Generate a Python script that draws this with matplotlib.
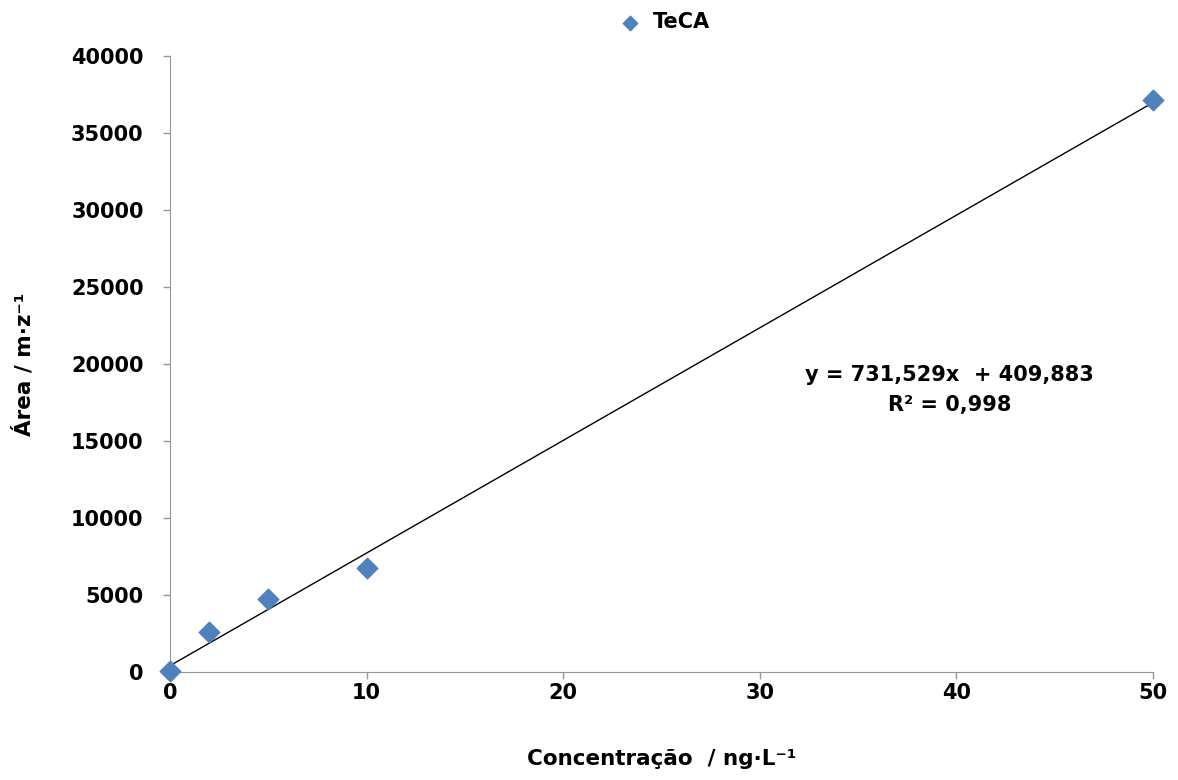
import matplotlib
matplotlib.use("Agg")
import matplotlib.pyplot as plt
import numpy as np

# calibration data
conc = [0, 2, 5, 10, 50]
area = [50, 2600, 4720, 6750, 37120]
slope = 731.529
intercept = 409.883
x_ticks = [0, 10, 20, 30, 40, 50]
y_ticks = [0, 5000, 10000, 15000, 20000, 25000, 30000, 35000, 40000]

plt.rcParams['font.family'] = ['DejaVu Sans']
plt.rcParams['font.weight'] = 'bold'

fig = plt.figure(figsize=(11.78, 7.8), dpi=100)
ax = fig.add_axes([0.1443, 0.1385, 0.8345, 0.7895])

# trend line
xl = np.array([conc[0], conc[-1]])
ax.plot(xl, slope * xl + intercept, color='black', lw=1, zorder=2)

ax.scatter(conc, area, marker='D', s=110, color='#4F81BD', zorder=3,
           label='TeCA', clip_on=False)

ax.set_xlim(0, 50)
ax.set_ylim(0, 40000)
ax.set_xticks(x_ticks)
ax.set_yticks(y_ticks)
for s in ['top', 'right']:
    ax.spines[s].set_visible(False)
for s in ['left', 'bottom']:
    ax.spines[s].set_color('#969696')
ax.tick_params(axis='both', colors='#969696', labelcolor='black',
               labelsize=15, length=5, width=1, direction='out')
ax.tick_params(axis='y', pad=14)
ax.tick_params(axis='x', pad=3)
for lab in ax.get_xticklabels() + ax.get_yticklabels():
    lab.set_fontweight('bold')

ax.set_xlabel('Concentração  / ng·L⁻¹', fontsize=15.5, fontweight='bold')
ax.set_ylabel('Área / m·z⁻¹', fontsize=15.5, fontweight='bold')
ax.xaxis.set_label_coords(0.5, -0.125)
ax.yaxis.set_label_coords(-0.138, 0.5)

ax.text(0.793, 0.458, 'y = 731,529x  + 409,883\nR² = 0,998', transform=ax.transAxes,
        ha='center', va='center', fontsize=15, fontweight='bold', linespacing=1.6)

leg = ax.legend(loc='lower center', bbox_to_anchor=(0.498, 1.015), frameon=False,
                fontsize=15, handletextpad=0.1, borderaxespad=0.3, markerscale=0.7)

fig.savefig('out.png', dpi=100)
